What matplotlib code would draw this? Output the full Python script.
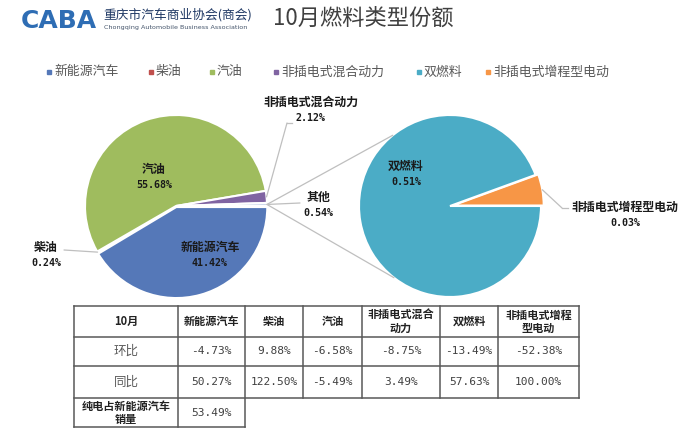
import matplotlib
matplotlib.use("Agg")
import matplotlib.pyplot as plt
from matplotlib.patches import ConnectionPatch
import numpy as np

plt.rcParams['font.family'] = ['Noto Sans CJK SC', 'DejaVu Sans']

# ---- data ----
title = "10月燃料类型份额"
main_labels = ["新能源汽车", "柴油", "汽油", "非插电式混合动力", "其他"]
main_values = [41.42, 0.24, 55.68, 2.12, 0.54]
main_colors = ["#5578B8", "#C0504D", "#9FBC5E", "#8064A2", "#C9D5EA"]

sub_labels = ["非插电式增程型电动", "双燃料"]
sub_values = [0.03, 0.51]
sub_colors = ["#F79646", "#4BACC6"]

legend_labels = ["新能源汽车", "柴油", "汽油", "非插电式混合动力", "双燃料", "非插电式增程型电动"]
legend_colors = ["#5578B8", "#C0504D", "#9FBC5E", "#8064A2", "#4BACC6", "#F79646"]

table_header = ["10月", "新能源汽车", "柴油", "汽油", "非插电式混合\n动力", "双燃料", "非插电式增程\n型电动"]
row_names = ["环比", "同比"]
mom = [-4.73, 9.88, -6.58, -8.75, -13.49, -52.38]
yoy = [50.27, 122.50, -5.49, 3.49, 57.63, 100.00]
bev_label = "纯电占新能源汽车\n销量"
bev_share = 53.49

# ---- figure ----
W, H = 700, 432
fig = plt.figure(figsize=(7, 4.32), dpi=100)
fig.patch.set_facecolor("white")
bg = fig.add_axes([0, 0, 1, 1])
bg.set_xlim(0, W)
bg.set_ylim(H, 0)
bg.axis('off')

# header
bg.text(21, 21, "CABA", fontsize=18, fontweight='bold', color="#2E6DB4",
        family='DejaVu Sans', va='center', ha='left')
bg.text(103, 15, "重庆市汽车商业协会(商会)", fontsize=9.2, color="#1F3864", va='center', ha='left')
bg.text(104, 28, "Chongqing Automobile Business Association", fontsize=4.6, color="#44546A",
        va='center', ha='left', family='DejaVu Sans')
bg.text(273, 18, title, fontsize=16, color="#404040", va='center', ha='left')

# legend
leg_x = [49, 151, 212, 276, 419, 488]
for x, lab, col in zip(leg_x, legend_labels, legend_colors):
    bg.plot(x, 72, marker='s', ms=3, color=col, ls='none')
    bg.text(x + 5, 72, lab, fontsize=9.3, color="#595959", va='center', ha='left')


def pie_axes(cx, cy, r, pad=1.12):
    s = r * pad
    ax = fig.add_axes([(cx - s) / W, (H - cy - s) / H, 2 * s / W, 2 * s / H])
    return ax, pad


# left pie
axL, padL = pie_axes(176, 206, 91)
wL, _ = axL.pie(main_values, colors=main_colors, startangle=0, counterclock=False,
                explode=[0.012, 0, 0, 0, 0],
                wedgeprops=dict(edgecolor='white', linewidth=1.5))
axL.set_xlim(-padL, padL)
axL.set_ylim(-padL, padL)
axL.axis('off')

# right pie
axR, padR = pie_axes(450, 206, 91)
wR, _ = axR.pie(sub_values, colors=sub_colors, startangle=0, counterclock=True,
                explode=[0.03, 0],
                wedgeprops=dict(edgecolor='white', linewidth=1.5))
axR.set_xlim(-padR, padR)
axR.set_ylim(-padR, padR)
axR.axis('off')

# overlay for labels on top of the pies
top = fig.add_axes([0, 0, 1, 1])
top.set_xlim(0, W)
top.set_ylim(H, 0)
top.axis('off')
top.patch.set_alpha(0)


def edge_pt(w, r=1.0):
    a = np.deg2rad((w.theta1 + w.theta2) / 2)
    c = w.center
    return (c[0] + r * np.cos(a), c[1] + r * np.sin(a))


line_col = "#BFBFBF"
# pie-of-pie connectors
other = wL[4]
for ang in (129, 232):
    a = np.deg2rad(ang)
    cp = ConnectionPatch(xyA=edge_pt(other), coordsA=axL.transData,
                         xyB=(np.cos(a), np.sin(a)), coordsB=axR.transData,
                         color=line_col, lw=0.9)
    fig.add_artist(cp)


def leader(ax, w, xy, r=1.0):
    cp = ConnectionPatch(xyA=edge_pt(w, r), coordsA=ax.transData,
                         xyB=xy, coordsB=top.transData, color=line_col, lw=0.9)
    fig.add_artist(cp)


leader(axL, wL[3], (287, 123))
top.plot([287, 292], [123, 123], color=line_col, lw=0.9)
leader(axL, wL[4], (300, 203))
leader(axL, wL[1], (64, 250))
leader(axR, wR[0], (562, 208))
top.plot([562, 568], [208, 208], color=line_col, lw=0.9)

lab_kw = dict(fontsize=8.6, fontweight='bold', color="#1A1A1A", ha='center', va='center')
pct_kw = dict(fontsize=7.2, fontweight='bold', color="#1A1A1A", ha='center', va='center',
              family='DejaVu Sans Mono')


def pie_label(x, y, name, val):
    top.text(x, y, name, **lab_kw)
    top.text(x, y + 16, f"{val:.2f}%", **pct_kw)


pie_label(154, 169, main_labels[2], main_values[2])
pie_label(210, 247, main_labels[0], main_values[0])
pie_label(46, 247, main_labels[1], main_values[1])
pie_label(311, 102, main_labels[3], main_values[3])
pie_label(318, 197, main_labels[4], main_values[4])
pie_label(406, 166, sub_labels[1], sub_values[1])
pie_label(625, 207, sub_labels[0], sub_values[0])

# ---- table ----
cols = [74, 178, 245, 303, 362, 440, 498, 579]
rows = [306, 337, 366, 398, 427]
tcol = "#595959"
for y in rows[:4]:
    top.plot([cols[0], cols[-1]], [y, y], color=tcol, lw=1.1)
top.plot([cols[0], cols[2]], [rows[4], rows[4]], color=tcol, lw=1.1)
for i, x in enumerate(cols):
    yb = rows[4] if i <= 2 else rows[3]
    top.plot([x, x], [rows[0], yb], color=tcol, lw=1.1)

cx = [(a + b) / 2 for a, b in zip(cols[:-1], cols[1:])]
cy = [(a + b) / 2 for a, b in zip(rows[:-1], rows[1:])]
for x, t in zip(cx, table_header):
    top.text(x, cy[0], t, fontsize=8, fontweight='bold', color="#222222", ha='center',
             va='center', linespacing=1.0)
num_kw = dict(fontsize=8, color="#404040", ha='center', va='center', family='DejaVu Sans Mono')
for r, (name, vals) in enumerate(zip(row_names, [mom, yoy])):
    top.text(cx[0], cy[r + 1], name, fontsize=9, color="#595959", ha='center', va='center')
    for x, v in zip(cx[1:], vals):
        top.text(x, cy[r + 1], f"{v:.2f}%", **num_kw)
top.text(cx[0], cy[3], bev_label, fontsize=8, fontweight='bold', color="#222222",
         ha='center', va='center', linespacing=1.0)
top.text(cx[1], cy[3], f"{bev_share:.2f}%", **num_kw)

fig.savefig("out.png", dpi=100, facecolor="white")
